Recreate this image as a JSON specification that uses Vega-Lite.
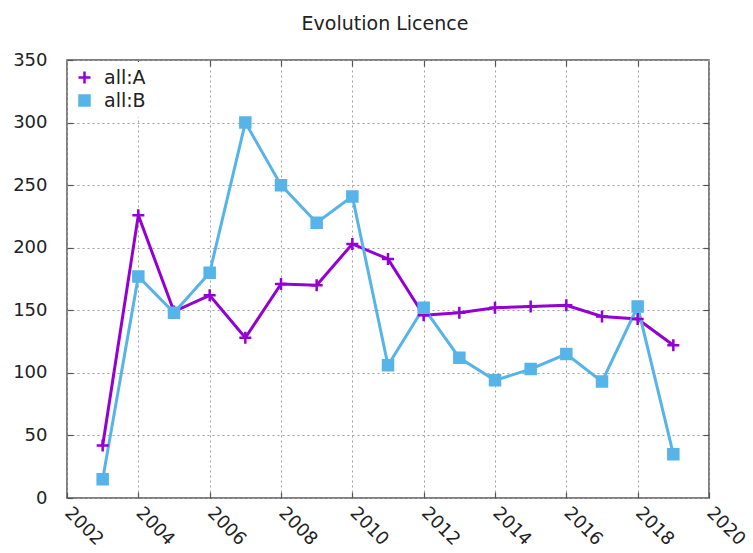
{
  "$schema": "https://vega.github.io/schema/vega-lite/v6.json",
  "width": 642,
  "height": 438,
  "autosize": {"type": "none"},
  "padding": {"left": 67, "top": 60, "right": 44, "bottom": 55},
  "background": "white",
  "title": {"text": "Evolution Licence", "fontSize": 19, "fontWeight": "normal", "font": "DejaVu Sans", "color": "#222222", "offset": 17, "dx": -3},
  "config": {
    "font": "DejaVu Sans",
    "view": {"stroke": "#555555", "strokeWidth": 1.5},
    "axis": {"gridColor": "#a0a0a0", "gridDash": [2, 3], "gridWidth": 1, "gridOpacity": 1, "domain": false, "tickColor": "#555555", "tickSize": -6, "tickWidth": 1.2, "labelFontSize": 18, "labelColor": "#222222", "title": null},
    "legend": {"title": null, "orient": "top-left", "offset": 2, "labelFontSize": 19, "labelColor": "#222222", "symbolSize": 100, "symbolStrokeWidth": 2.5, "fillColor": "white", "padding": 6, "rowPadding": 1, "labelOffset": 10}
  },
  "data": {"values": [
    {"year": 2003, "series": "all:A", "value": 42},
    {"year": 2004, "series": "all:A", "value": 226},
    {"year": 2005, "series": "all:A", "value": 149},
    {"year": 2006, "series": "all:A", "value": 162},
    {"year": 2007, "series": "all:A", "value": 128},
    {"year": 2008, "series": "all:A", "value": 171},
    {"year": 2009, "series": "all:A", "value": 170},
    {"year": 2010, "series": "all:A", "value": 203},
    {"year": 2011, "series": "all:A", "value": 191},
    {"year": 2012, "series": "all:A", "value": 146},
    {"year": 2013, "series": "all:A", "value": 148},
    {"year": 2014, "series": "all:A", "value": 152},
    {"year": 2015, "series": "all:A", "value": 153},
    {"year": 2016, "series": "all:A", "value": 154},
    {"year": 2017, "series": "all:A", "value": 145},
    {"year": 2018, "series": "all:A", "value": 143},
    {"year": 2019, "series": "all:A", "value": 122},
    {"year": 2003, "series": "all:B", "value": 15},
    {"year": 2004, "series": "all:B", "value": 177},
    {"year": 2005, "series": "all:B", "value": 148},
    {"year": 2006, "series": "all:B", "value": 180},
    {"year": 2007, "series": "all:B", "value": 300},
    {"year": 2008, "series": "all:B", "value": 250},
    {"year": 2009, "series": "all:B", "value": 220},
    {"year": 2010, "series": "all:B", "value": 241},
    {"year": 2011, "series": "all:B", "value": 106},
    {"year": 2012, "series": "all:B", "value": 152},
    {"year": 2013, "series": "all:B", "value": 112},
    {"year": 2014, "series": "all:B", "value": 94},
    {"year": 2015, "series": "all:B", "value": 103},
    {"year": 2016, "series": "all:B", "value": 115},
    {"year": 2017, "series": "all:B", "value": 93},
    {"year": 2018, "series": "all:B", "value": 153},
    {"year": 2019, "series": "all:B", "value": 35}
  ]},
  "layer": [
    {
      "mark": {"type": "line", "strokeWidth": 3},
      "encoding": {
        "x": {"field": "year", "type": "quantitative", "scale": {"domain": [2002, 2020], "nice": false, "zero": false},
          "axis": {"values": [2002, 2004, 2006, 2008, 2010, 2012, 2014, 2016, 2018, 2020], "format": "d", "labelAngle": 45, "labelAlign": "left", "labelBaseline": "middle", "labelPadding": 18, "labelFlush": false, "labelOverlap": false}},
        "y": {"field": "value", "type": "quantitative", "scale": {"domain": [0, 350], "nice": false},
          "axis": {"values": [0, 50, 100, 150, 200, 250, 300, 350], "labelPadding": 26}},
        "color": {"field": "series", "type": "nominal", "scale": {"domain": ["all:A", "all:B"], "range": ["#9400d3", "#56b4e9"]}}
      }
    },
    {
      "mark": {"type": "point", "filled": false, "strokeWidth": 2.5, "size": 100, "opacity": 1},
      "encoding": {
        "x": {"field": "year", "type": "quantitative",
          "axis": {"orient": "top", "values": [2004, 2006, 2008, 2010, 2012, 2014, 2016, 2018], "labels": false, "grid": false}},
        "y": {"field": "value", "type": "quantitative",
          "axis": {"orient": "right", "values": [50, 100, 150, 200, 250, 300], "labels": false, "grid": false}},
        "color": {"field": "series", "type": "nominal", "scale": {"domain": ["all:A", "all:B"], "range": ["#9400d3", "#56b4e9"]}},
        "fill": {"field": "series", "type": "nominal", "scale": {"domain": ["all:A", "all:B"], "range": ["#9400d3", "#56b4e9"]}},
        "shape": {"field": "series", "type": "nominal", "scale": {"domain": ["all:A", "all:B"], "range": ["M-1.2,0L1.2,0M0,-1.2L0,1.2", "square"]}}
      }
    }
  ],
  "resolve": {"axis": {"x": "independent", "y": "independent"}}
}
